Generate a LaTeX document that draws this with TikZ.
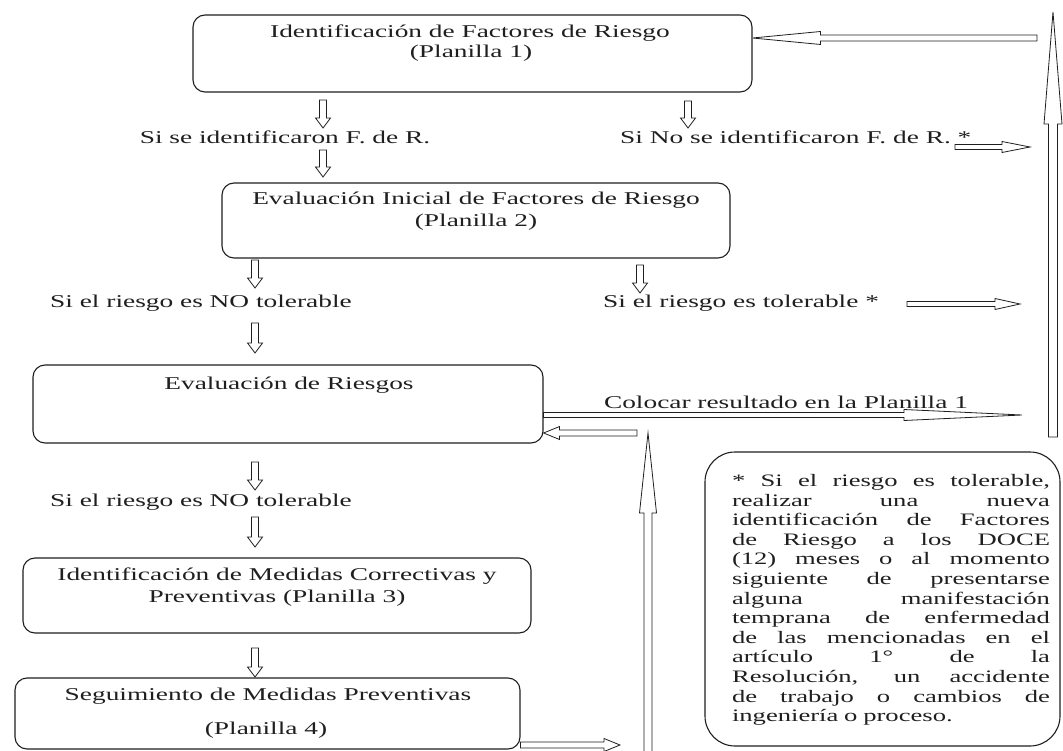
\documentclass[tikz,border=0pt]{standalone}
\usepackage{fontspec}
\setmainfont{Liberation Serif}[FakeStretch=1.52]
\usetikzlibrary{calc}

\definecolor{ink}{gray}{0.12}

% outlined block arrow from tail #1 to tip #2:
% #3 half shaft width, #4 half head width, #5 head length
\newcommand{\blockarrow}[5]{%
  \coordinate (hb) at ($(#2)!#5!(#1)$);
  \draw[arrowline]
    ($(#1)!#3!90:(#2)$) -- ($(hb)!#3!90:(#2)$) -- ($(hb)!#4!90:(#2)$) -- (#2)
    -- ($(hb)!#4!-90:(#2)$) -- ($(hb)!#3!-90:(#2)$) -- ($(#1)!#3!-90:(#2)$) -- cycle;
}
\newcommand{\smalldown}[2]{\blockarrow{#1}{#2}{3.5pt}{7.5pt}{10pt}}
% one fully justified line of the note
\newcommand{\jline}[1]{\leavevmode{\spaceskip=0.25em plus 1fil\relax
  \makebox[318pt][s]{#1}}}

\tikzset{
  box/.style={draw=ink, line width=1.1pt, rounded corners=12pt, fill=white,
              inner sep=0pt, minimum width=#1},
  arrowline/.style={draw=ink, line width=0.8pt, fill=white, line join=miter},
  lbl/.style={inner sep=0pt, text=ink, font=\fontsize{18}{20}\selectfont},
}

\begin{document}
\begin{tikzpicture}[x=1pt, y=-1pt]
\useasboundingbox (0,0) rectangle (1063,751);

% process boxes
\node[box=559pt, minimum height=77pt] (b1) at (472.5,53.5) {};
\node[box=508pt, minimum height=75pt] (b2) at (476,220.5) {};
\node[box=510pt, minimum height=78pt] (b3) at (288,404) {};
\node[box=508pt, minimum height=75pt] (b4) at (277,595.5) {};
\node[box=505pt, minimum height=71pt] (b5) at (267.5,713.5) {};

% box texts
\node[lbl] (t1a) at (470,33) {Identificación de Factores de Riesgo};
\node[lbl] (t1b) at (471,53) {(Planilla 1)};
\node[lbl] (t2a) at (476,200) {Evaluación Inicial de Factores de Riesgo};
\node[lbl] (t2b) at (476,222) {(Planilla 2)};
\node[lbl] (t3)  at (289,385) {Evaluación de Riesgos};
\node[lbl] (t4a) at (277,576) {Identificación de Medidas Correctivas y};
\node[lbl] (t4b) at (277,598) {Preventivas (Planilla 3)};
\node[lbl] (t5a) at (268,696) {Seguimiento de Medidas Preventivas};
\node[lbl] (t5b) at (266,730) {(Planilla 4)};

% branch labels
\node[lbl] (l1) at (285,137) {Si se identificaron F. de R.};
\node[lbl, anchor=west] (l2) at (620,137) {Si No se identificaron F. de R. *};
\node[lbl] (l3) at (201,303) {Si el riesgo es NO tolerable};
\node[lbl, anchor=west] (l4) at (603,303) {Si el riesgo es tolerable *};
\node[lbl] (l5) at (201,502) {Si el riesgo es NO tolerable};
\node[lbl] (l6) at (786,402) {Colocar resultado en la Planilla 1};

% note box
\node[draw=ink, line width=1.1pt, rounded corners=30pt, inner sep=0pt,
      minimum width=355pt, minimum height=294pt] (note) at (882.5,599) {};
\node[inner sep=0pt, text=ink, align=left, text width=318pt,
      font=\fontsize{17.5}{19.6}\selectfont] (notetext) at (891,600) {%
\jline{* Si el riesgo es tolerable,}\\
\jline{realizar una nueva}\\
\jline{identificación de Factores}\\
\jline{de Riesgo a los DOCE}\\
\jline{(12) meses o al momento}\\
\jline{siguiente de presentarse}\\
\jline{alguna manifestación}\\
\jline{temprana de enfermedad}\\
\jline{de las mencionadas en el}\\
\jline{artículo 1° de la}\\
\jline{Resolución, un accidente}\\
\jline{de trabajo o cambios de}\\
ingeniería o proceso.};

% arrow end points
\coordinate (d1s) at (323,100); \coordinate (d1e) at (323,128);
\coordinate (d2s) at (688,101); \coordinate (d2e) at (688,128);
\coordinate (d3s) at (323,150); \coordinate (d3e) at (323,177);
\coordinate (d4s) at (255,260); \coordinate (d4e) at (255,288);
\coordinate (d5s) at (640,265); \coordinate (d5e) at (640,293);
\coordinate (d6s) at (255,323); \coordinate (d6e) at (255,353);
\coordinate (d7s) at (255,462); \coordinate (d7e) at (255,490);
\coordinate (d8s) at (255,517); \coordinate (d8e) at (255,547);
\coordinate (d9s) at (255,648); \coordinate (d9e) at (255,677);
\coordinate (nrs) at (955,147);  \coordinate (nre) at (1030,147);
\coordinate (tos) at (907,304);  \coordinate (toe) at (1020,304);
\coordinate (cos) at (b3.east |- 0,415); \coordinate (coe) at (1022,415);
\coordinate (rts) at (637,433);  \coordinate (rte) at (b3.east |- 0,433);
\coordinate (sgs) at (b5.east |- 0,745); \coordinate (sge) at (620,745);
\coordinate (mvs) at (648,752);  \coordinate (mve) at (648,433);
\coordinate (rvs) at (1053,437); \coordinate (rve) at (1053,12);
\coordinate (tls) at (1037,38);  \coordinate (tle) at (b1.east |- 0,38);

% flow arrows
\smalldown{d1s}{d1e}
\smalldown{d2s}{d2e}
\smalldown{d3s}{d3e}
\smalldown{d4s}{d4e}
\smalldown{d5s}{d5e}
\smalldown{d6s}{d6e}
\smalldown{d7s}{d7e}
\smalldown{d8s}{d8e}
\smalldown{d9s}{d9e}

\blockarrow{nrs}{nre}{2.5pt}{5.5pt}{28pt}
\blockarrow{tos}{toe}{2.5pt}{5.5pt}{25pt}
\blockarrow{cos}{coe}{2.5pt}{5.5pt}{118pt}
\blockarrow{rts}{rte}{3pt}{6.5pt}{16pt}
\blockarrow{sgs}{sge}{3pt}{6.5pt}{16pt}
\blockarrow{mvs}{mve}{4pt}{8.5pt}{80pt}
\blockarrow{rvs}{rve}{4.5pt}{9pt}{112pt}
\blockarrow{tls}{tle}{3pt}{6.5pt}{68pt}
\end{tikzpicture}
\end{document}
